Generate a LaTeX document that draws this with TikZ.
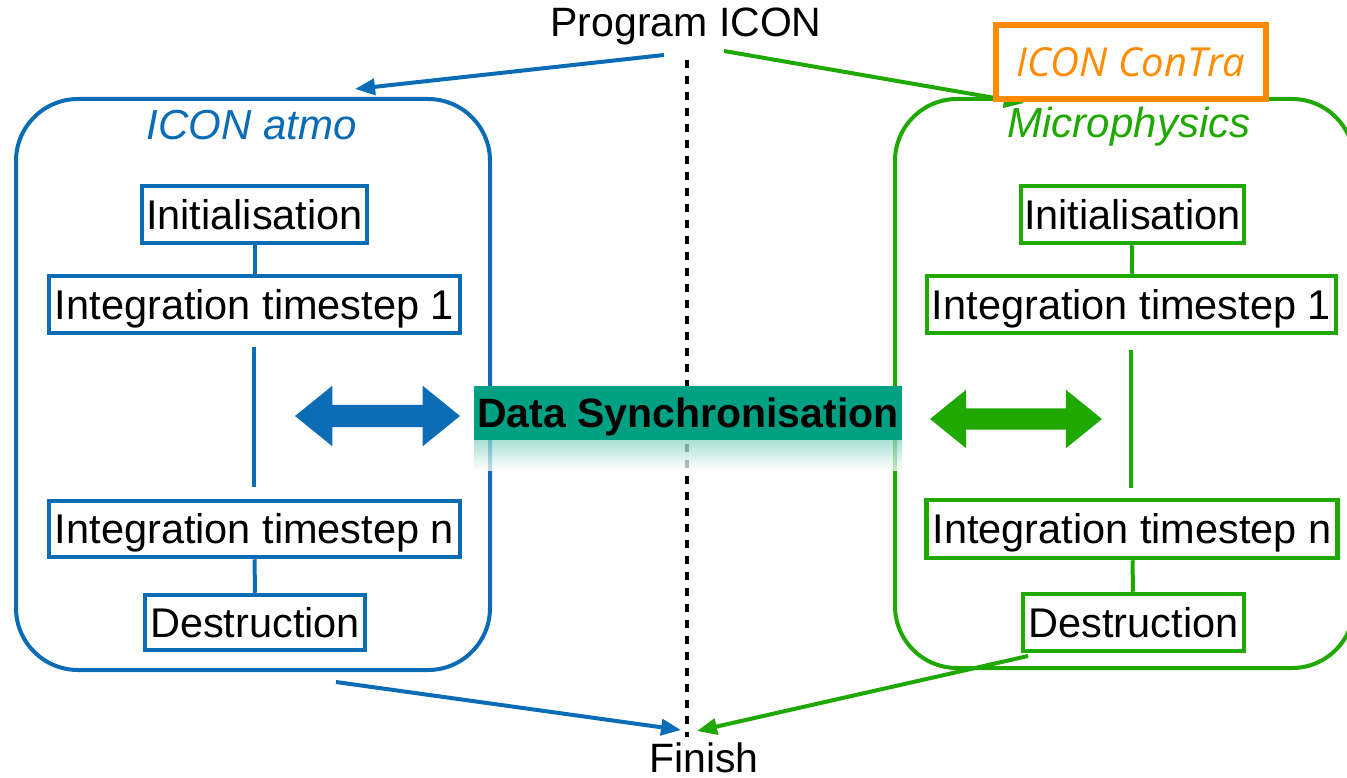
\documentclass[tikz,border=0pt]{standalone}
\usepackage{fontspec}
\setmainfont{Liberation Sans}
\newfontfamily\contrafont{Open Sans}
\usetikzlibrary{arrows.meta,shapes.arrows}
\definecolor{cblue}{RGB}{10,108,180}
\definecolor{cgreen}{RGB}{30,168,0}
\definecolor{corange}{RGB}{255,140,0}
\definecolor{cteal}{RGB}{0,160,130}
\begin{document}
\begin{tikzpicture}[x=1pt,y=-1pt,
  bigfont/.style={font=\fontsize{41.5}{48}\selectfont},
  stepbox/.style={draw,line width=4.5pt,fill=white,inner sep=0pt,text=black,
    text height=29.5pt,text depth=0pt,bigfont},
  container/.style={draw,line width=4pt,rounded corners=62pt,inner sep=0pt},
  titletext/.style={anchor=base,inner sep=0pt,font=\fontsize{42}{48}\selectfont\itshape},
  plaintext/.style={anchor=base,inner sep=0pt,font=\fontsize{41}{48}\selectfont},
  flow/.style={line width=4pt,-{Triangle[length=20pt,width=16pt]}},
  link/.style={line width=4pt},
  syncarrow/.style={double arrow,inner sep=11pt,minimum width=60pt,
    double arrow head extend=19pt,double arrow tip angle=78,
    shape border rotate=0}
]
\useasboundingbox (0,0) rectangle (1347,778);
\clip (0,0) rectangle (1347,778);

% dashed middle line
\coordinate (dtop) at (687,60);
\coordinate (dbot) at (687,737);
\draw[line width=4.5pt,dash pattern=on 8pt off 8pt] (dtop) -- (dbot);

% containers
\node[container,draw=cblue,minimum width=474pt,minimum height=571pt] (atmo) at (253,384.5) {};
\node[container,draw=cgreen,minimum width=459pt,minimum height=569pt] (micro) at (1124.5,383.5) {};

\node[titletext,text=cblue] (atmot) at (252,140) {ICON atmo};
\node[titletext,text=cgreen] (microt) at (1129,138) {Microphysics};

% reflection under sync box
\shade[top color=cteal!45,bottom color=white,fill opacity=0.75] (474,440) rectangle (902,470);

% data synchronisation
\node[fill=cteal,minimum width=428pt,minimum height=54pt,inner sep=0pt,text=black,
  text height=29.5pt,text depth=0pt,font=\fontsize{41}{48}\selectfont\bfseries] (sync) at (688,413) {Data Synchronisation};

% blue steps
\node[stepbox,draw=cblue,minimum width=225pt,minimum height=57pt] (binit) at (254.5,214.5) {Initialisation};
\node[stepbox,draw=cblue,minimum width=411pt,minimum height=57pt] (bone) at (254.5,304.5) {Integration timestep 1};
\node[stepbox,draw=cblue,minimum width=411pt,minimum height=56pt] (bn) at (254.5,529) {Integration timestep n};
\node[stepbox,draw=cblue,minimum width=220pt,minimum height=55pt] (bdest) at (255,622.5) {Destruction};

\draw[link,cblue] (binit) -- (bone);
\coordinate (bgap1) at (254,347);
\coordinate (bgap2) at (254,487);
\draw[link,cblue] (bgap1) -- (bgap2);
\draw[link,cblue] (bn) -- (bdest);

% green steps
\node[stepbox,draw=cgreen,minimum width=223pt,minimum height=57pt] (ginit) at (1132.5,214.5) {Initialisation};
\node[stepbox,draw=cgreen,minimum width=409pt,minimum height=57pt] (gone) at (1131.5,304.5) {Integration timestep 1};
\node[stepbox,draw=cgreen,minimum width=411pt,minimum height=58pt] (gn) at (1132,529) {Integration timestep n};
\node[stepbox,draw=cgreen,minimum width=221pt,minimum height=57pt] (gdest) at (1133.5,622.5) {Destruction};

\draw[link,cgreen] (ginit) -- (gone);
\coordinate (ggap1) at (1131,350);
\coordinate (ggap2) at (1131,488);
\draw[link,cgreen] (ggap1) -- (ggap2);
\draw[link,cgreen] (gn) -- (gdest);

% sync arrows
\node[syncarrow,fill=cblue,minimum height=165pt] (barrow) at (377.5,416) {};
\node[syncarrow,fill=cgreen,minimum height=172pt,minimum width=58pt,double arrow head extend=18.5pt,inner sep=10.5pt] (garrow) at (1016,419) {};

% top and bottom texts
\node[plaintext] (prog) at (686,37) {Program ICON};
\node[plaintext] (finish) at (704,772) {Finish};

% flow arrows
\coordinate (pb) at (664,55);
\coordinate (pbe) at (355,89);
\draw[flow,cblue] (pb) -- (pbe);
\coordinate (pg) at (724,51);
\coordinate (pge) at (1024,103);
\draw[flow,cgreen] (pg) -- (pge);

\coordinate (fb) at (336,682);
\coordinate (fbe) at (681,730);
\draw[flow,cblue] (fb) -- (fbe);
\coordinate (fg) at (1028,656);
\coordinate (fge) at (697,731);
\draw[flow,cgreen] (fg) -- (fge);

% ICON ConTra label
\node[draw=corange,line width=6pt,fill=white,minimum width=270pt,minimum height=74pt,inner sep=0pt,
  text=corange,font=\fontsize{40}{48}\selectfont\contrafont\itshape,text height=29pt,text depth=0pt] (contra) at (1131,62) {ICON ConTra};
\end{tikzpicture}
\end{document}
